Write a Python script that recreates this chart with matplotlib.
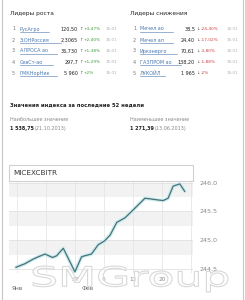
import matplotlib
matplotlib.use("Agg")
import matplotlib.pyplot as plt
from matplotlib.patches import Rectangle, PathPatch
from matplotlib.lines import Line2D
from matplotlib.textpath import TextPath
from matplotlib.font_manager import FontProperties
from matplotlib.transforms import Affine2D

# --- data ---
up_names = ["РусАгро", "Э.ОНРоссия", "АЛРОСА ао", "СевСт-ао", "ГМКНорНик"]
up_prices = ["120,50", "2,3065", "36,730", "297,7", "5 960"]
up_changes = ["+3,47%", "+2,40%", "+1,38%", "+1,29%", "+2%"]
up_times = ["15:01", "15:01", "15:01", "15:01", "15:01"]

down_names = ["Мечел ао", "Мечел ап", "Иркэнерго", "ГАЗПРОМ ао", "ЛУКОЙЛ"]
down_prices = ["38,5", "24,40", "70,61", "138,20", "1 965"]
down_changes = ["-24,40%", "-17,02%", "-3,80%", "-1,88%", "-2%"]
down_times = ["15:01", "15:01", "15:01", "15:01", "15:01"]

high_value, high_date = "1 538,75", "(21.10.2013)"
low_value, low_date = "1 271,39", "(13.06.2013)"

chart_title = "MICEXCBITR"
chart_days = [15.8, 17.9, 19.9, 21.1, 22.8, 24.6, 25.6, 27.2, 30.0, 31.6, 32.4,
              34.0, 35.6, 37.2, 38.5, 40.1, 42.1, 44.1, 46.9, 48.1, 50.1, 51.3,
              52.5, 53.7, 55.3, 56.5]
chart_values = [244.53, 244.59, 244.67, 244.71, 244.76, 244.70, 244.73, 244.86,
                244.45, 244.71, 244.73, 244.76, 244.92, 244.99, 245.09, 245.31,
                245.39, 245.53, 245.73, 245.72, 245.70, 245.69, 245.73, 245.94,
                245.98, 245.85]
xtick_days = [30, 37, 44, 51]
xtick_labels = ["30", "6", "13", "20"]
ytick_values = [244.5, 245.0, 245.5, 246.0]
month_days = [16, 33]
month_labels = ["Янв", "Фев"]
watermark = "SMGroup"

W, H = 245, 300
plt.rcParams["font.family"] = ["DejaVu Sans"]
fig = plt.figure(figsize=(W / 100, H / 100), dpi=100)
fig.patch.set_facecolor("white")


def fx(x):
    return x / W


def fy(y):
    return 1 - y / H


def txt(x, y, s, **kw):
    kw.setdefault("fontsize", 3.5)
    kw.setdefault("va", "center")
    fig.text(fx(x), fy(y), s, **kw)


# page borders
for x in (2, 243):
    fig.add_artist(Line2D([fx(x), fx(x)], [0, 1], color="#c8c8c8", lw=0.8))

# leaders tables
link = "#4a78b0"
txt(10, 13, "Лидеры роста", color="#222222", fontsize=4.2)
txt(130, 13, "Лидеры снижения", color="#222222", fontsize=4.2)
row_y = [29, 40, 51, 62, 73]
for i, y in enumerate(row_y):
    txt(12, y, str(i + 1), color="#777777")
    txt(20, y, up_names[i], color=link)
    fig.add_artist(Line2D([fx(20), fx(20 + 4.1 * len(up_names[i]))], [fy(y + 2.6)] * 2,
                          color=link, lw=0.4))
    txt(78, y, up_prices[i], color="#222222", ha="right")
    txt(79.5, y, "↑", color="#555555", fontsize=3.2)
    txt(84, y, up_changes[i], color="#3a9a3a", fontsize=3.1)
    txt(106, y, up_times[i], color="#b0b0b0", fontsize=3.0)

    txt(133, y, str(i + 1), color="#777777")
    txt(140, y, down_names[i], color=link)
    fig.add_artist(Line2D([fx(140), fx(140 + 4.1 * len(down_names[i]))], [fy(y + 2.6)] * 2,
                          color=link, lw=0.4))
    txt(195, y, down_prices[i], color="#222222", ha="right")
    txt(196.5, y, "↓", color="#555555", fontsize=3.2)
    txt(201, y, down_changes[i], color="#d04040", fontsize=3.1)
    txt(227, y, down_times[i], color="#b0b0b0", fontsize=3.0)

# 52-week block
txt(10, 105, "Значения индекса за последние 52 недели", color="#222222", fontsize=3.8,
    fontweight="bold")
txt(10, 119, "Наибольшее значение", color="#888888")
txt(10, 129, high_value, color="#222222", fontweight="bold", fontsize=3.5)
txt(35, 129, high_date, color="#888888")
txt(130, 119, "Наименьшее значение", color="#888888")
txt(130, 129, low_value, color="#222222", fontweight="bold", fontsize=3.5)
txt(155, 129, low_date, color="#888888")

# chart header box
fig.add_artist(Rectangle((fx(9), fy(181)), fx(184), 16 / H, transform=fig.transFigure,
                         facecolor="white", edgecolor="#d0d0d0", lw=0.8))
txt(13, 173, chart_title, color="#333333", fontsize=5.2)

# chart
ax = fig.add_axes([fx(9), fy(273), fx(184), (273 - 181) / H])
ax.set_xlim(14.1, 58.5)
ax.set_ylim(244.43, 246.03)
band = 244.5
while band < 246.0:
    ax.axhspan(band + 0.25, band + 0.5, color="#f2f2f2", lw=0, zorder=0)
    band += 0.5
for d in [16, 23] + xtick_days + [58]:
    ax.axvline(d, color="#e6e6e6", lw=0.6, zorder=1)
for v in ytick_values:
    ax.axhline(v, color="#e2e2e2", lw=0.6, zorder=1)
ax.plot(chart_days, chart_values, color="#c9ecef", lw=2.6, zorder=2, solid_capstyle="round")
ax.plot(chart_days, chart_values, color="#4d6f78", lw=0.9, zorder=3)

ax.yaxis.tick_right()
ax.set_yticks(ytick_values)
ax.set_yticklabels([f"{v:.1f}" for v in ytick_values], fontsize=4.6, color="#888888")
ax.set_xticks(xtick_days)
ax.set_xticklabels(xtick_labels, fontsize=4.2, color="#888888")
ax.tick_params(length=0, pad=3)
ax.tick_params(axis="y", pad=5)
for side, sp in ax.spines.items():
    sp.set_visible(side == "top")
    sp.set_color("#d0d0d0")
    sp.set_linewidth(0.8)
for d, lab in zip(month_days, month_labels):
    ax.text(d, -0.17, lab, transform=ax.get_xaxis_transform(), fontsize=4.2,
            color="#666666", ha="center", va="center")

# watermark: outlined text stretched wide, placed in pixel units
tp = TextPath((0, 0), watermark, size=30, prop=FontProperties(family="DejaVu Sans"))
bb = tp.get_extents()
to_px = Affine2D().translate(-bb.x0, -bb.y0).scale(195 / bb.width, 26 / bb.height)
to_px = to_px.translate(33, H - 292)
wm = PathPatch(to_px.transform_path(tp), facecolor=(1, 1, 1, 0.55), edgecolor="#d8d8d8",
               lw=0.8, transform=Affine2D().scale(1 / W, 1 / H) + fig.transFigure)
fig.add_artist(wm)

fig.savefig("out.png", dpi=100, facecolor="white")
